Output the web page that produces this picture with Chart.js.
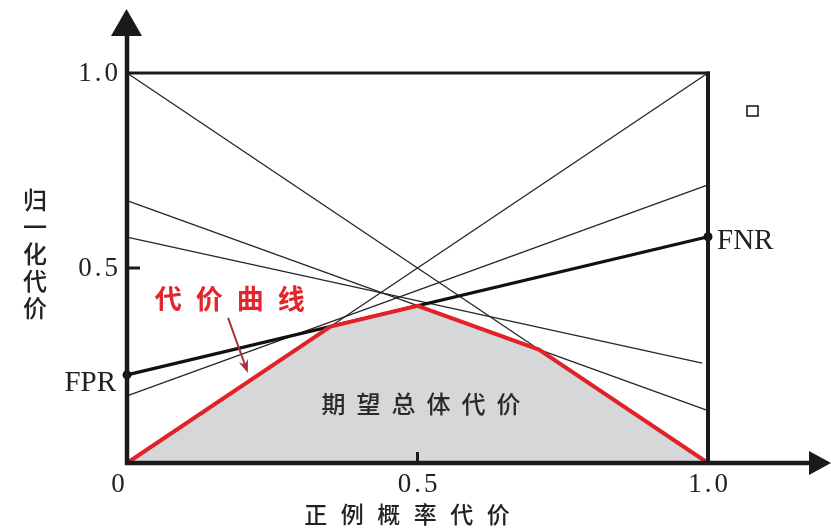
<!DOCTYPE html>
<html>
<head>
<meta charset="utf-8">
<script src="https://cdn.jsdelivr.net/npm/chart.js@4/dist/chart.umd.min.js"></script>
<style>
  html, body { margin: 0; padding: 0; background: #fff; }
  canvas { display: block; }
</style>
</head>
<body>
<canvas id="c" width="831" height="529"></canvas>
<script>
// Normalised expected cost of each classifier against probability cost (x).
const lineA = [[0, 1.0], [1, 0.0]];          // trivial classifier: all negative
const lineB = [[0, 0.0], [1, 1.0]];          // trivial classifier: all positive
const lineC = [[0, 0.673], [1, 0.134]];
const lineD = [[0, 0.579], [0.99, 0.256]];
const lineF = [[0, 0.172], [1, 0.713]];
const lineRates = [[0, 0.226], [1, 0.580]];  // FPR at x = 0, FNR at x = 1

// Lower envelope of all the lines: the cost curve
const costCurve = [[0, 0], [0.35, 0.35], [0.5, 0.403], [0.709, 0.291], [1, 0]];

const xTickValues = [0, 0.5, 1.0];
const xTickLabels = ['0', '0.5', '1.0'];
const yTickValues = [0.5, 1.0];
const yTickLabels = ['0.5', '1.0'];

const xTitle = '正例概率代价';
const yTitle = '归一化代价';
const curveLabel = '代价曲线';
const areaLabel = '期望总体代价';
const fprLabel = 'FPR';
const fnrLabel = 'FNR';

const SERIF = "'Liberation Serif', 'DejaVu Serif', serif";
const CJK = "'Noto Sans CJK SC', 'Noto Sans', sans-serif";

const toPts = arr => arr.map(p => ({ x: p[0], y: p[1] }));
const mk = (arr, opts) => Object.assign({
  data: toPts(arr), showLine: true, pointRadius: 0, clip: false,
  borderColor: '#262626', borderWidth: 1.35, fill: false
}, opts);

// Draws each character centred on an even step along x
function spaced(ctx, text, cx, cy, step) {
  const chars = Array.from(text);
  const n = chars.length;
  chars.forEach((ch, i) => ctx.fillText(ch, cx + (i - (n - 1) / 2) * step, cy));
}

const decor = {
  id: 'decor',
  afterDatasetsDraw(chart) {
    const { ctx, scales: { x, y } } = chart;
    const x0 = x.getPixelForValue(0), x1 = x.getPixelForValue(1);
    const y0 = y.getPixelForValue(0), y1 = y.getPixelForValue(1);
    ctx.save();
    ctx.strokeStyle = '#1a1a1a';
    ctx.fillStyle = '#1a1a1a';
    ctx.lineCap = 'butt';

    // frame: top and right edges
    ctx.lineWidth = 3;
    ctx.beginPath(); ctx.moveTo(x0, y1); ctx.lineTo(x1 + 2, y1); ctx.stroke();
    ctx.lineWidth = 4;
    ctx.beginPath(); ctx.moveTo(x1, y1 - 1.5); ctx.lineTo(x1, y0); ctx.stroke();

    // axes with arrows
    ctx.lineWidth = 4.5;
    ctx.beginPath(); ctx.moveTo(x0, y0 + 2); ctx.lineTo(x0, 34); ctx.stroke();
    ctx.beginPath(); ctx.moveTo(x0 - 2, y0); ctx.lineTo(812, y0); ctx.stroke();
    ctx.beginPath();
    ctx.moveTo(x0 - 16, 36); ctx.lineTo(x0 + 15, 36); ctx.lineTo(x0 - 0.5, 9); ctx.closePath(); ctx.fill();
    ctx.beginPath();
    ctx.moveTo(809, y0 - 12); ctx.lineTo(809, y0 + 12); ctx.lineTo(831, y0); ctx.closePath(); ctx.fill();

    // tick marks at 0.5
    ctx.lineWidth = 3;
    const yt = y.getPixelForValue(0.5), xt = x.getPixelForValue(0.5);
    ctx.beginPath(); ctx.moveTo(x0, yt); ctx.lineTo(x0 + 13, yt); ctx.stroke();
    ctx.beginPath(); ctx.moveTo(xt, y0); ctx.lineTo(xt, y0 - 11); ctx.stroke();

    // tick labels
    ctx.fillStyle = '#222';
    ctx.font = '27px ' + SERIF;
    ctx.textBaseline = 'middle';
    ctx.letterSpacing = '3px';
    ctx.textAlign = 'center';
    xTickValues.forEach((v, i) => {
      const px = x.getPixelForValue(v) + (v === 0 ? -9 : 0);
      ctx.fillText(xTickLabels[i], px + 1.5, y0 + 22);
    });
    ctx.textAlign = 'right';
    yTickValues.forEach((v, i) => {
      ctx.fillText(yTickLabels[i], x0 - 6, y.getPixelForValue(v) + 1);
    });
    ctx.letterSpacing = '0px';

    // FPR / FNR
    ctx.font = '29px ' + SERIF;
    ctx.textAlign = 'right';
    ctx.fillText(fprLabel, x0 - 11, y.getPixelForValue(lineRates[0][1]) + 9);
    ctx.textAlign = 'left';
    ctx.fillText(fnrLabel, x1 + 9, y.getPixelForValue(lineRates[1][1]) + 5);

    // axis titles
    ctx.textAlign = 'center';
    ctx.font = '500 23px ' + CJK;
    spaced(ctx, xTitle, 407, 514, 36.5);
    ctx.font = '500 24px ' + CJK;
    Array.from(yTitle).forEach((ch, i) => ctx.fillText(ch, 35, 200 + i * 27));

    // area label
    ctx.font = '500 24px ' + CJK;
    ctx.fillStyle = '#2a2a2a';
    spaced(ctx, areaLabel, x.getPixelForValue(0.506), y.getPixelForValue(0.151), 35);

    // curve label with pointer arrow
    ctx.fillStyle = '#e2262c';
    ctx.font = 'bold 27px ' + CJK;
    spaced(ctx, curveLabel, x.getPixelForValue(0.177), y.getPixelForValue(0.42), 41);

    const ax0 = x.getPixelForValue(0.174), ay0 = y.getPixelForValue(0.372);
    const ax1 = x.getPixelForValue(0.208), ay1 = y.getPixelForValue(0.231);
    ctx.strokeStyle = '#a8303c';
    ctx.fillStyle = '#a8303c';
    ctx.lineWidth = 2;
    const ang = Math.atan2(ay1 - ay0, ax1 - ax0);
    ctx.beginPath(); ctx.moveTo(ax0, ay0); ctx.lineTo(ax1 - 6 * Math.cos(ang), ay1 - 6 * Math.sin(ang)); ctx.stroke();
    ctx.beginPath();
    ctx.moveTo(ax1, ay1);
    ctx.lineTo(ax1 - 14 * Math.cos(ang - 0.35), ay1 - 14 * Math.sin(ang - 0.35));
    ctx.lineTo(ax1 - 9 * Math.cos(ang), ay1 - 9 * Math.sin(ang));
    ctx.lineTo(ax1 - 14 * Math.cos(ang + 0.35), ay1 - 14 * Math.sin(ang + 0.35));
    ctx.closePath(); ctx.fill();

    // small square mark at the upper right
    ctx.strokeStyle = '#111';
    ctx.lineWidth = 1.5;
    ctx.strokeRect(747, 106, 11, 10);
    ctx.restore();
  }
};

new Chart(document.getElementById('c'), {
  type: 'scatter',
  data: {
    datasets: [
      mk(costCurve, { borderColor: '#e32228', borderWidth: 4, fill: 'origin',
                      backgroundColor: '#d6d7d9', order: 0, borderJoinStyle: 'miter' }),
      mk(lineRates, { borderColor: '#111', borderWidth: 3.2, pointRadius: 4.5,
                      pointBackgroundColor: '#111', pointBorderWidth: 0, order: 1 }),
      mk(lineA, { order: 2 }),
      mk(lineB, { order: 2 }),
      mk(lineC, { order: 2 }),
      mk(lineD, { order: 2 }),
      mk(lineF, { order: 2 })
    ]
  },
  options: {
    responsive: false,
    animation: false,
    devicePixelRatio: 1,
    layout: { padding: { left: 127, right: 123, top: 73, bottom: 66 } },
    scales: {
      x: { type: 'linear', min: 0, max: 1, display: false },
      y: { type: 'linear', min: 0, max: 1, display: false }
    },
    plugins: { legend: { display: false }, tooltip: { enabled: false } },
    elements: { line: { tension: 0 } }
  },
  plugins: [decor]
});
</script>
</body>
</html>
